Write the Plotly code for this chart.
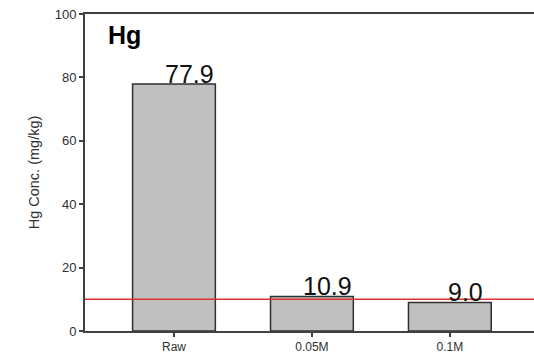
import plotly.graph_objects as go

categories = ["Raw", "0.05M", "0.1M"]
values = [77.9, 10.9, 9.0]
labels = ["77.9", "10.9", "9.0"]
limit_value = 10
y_ticks = [0, 20, 40, 60, 80, 100]

fig = go.Figure()
fig.add_trace(go.Bar(
    x=list(range(len(categories))), y=values, width=0.6,
    marker=dict(color="#C0C0C0", line=dict(color="#303030", width=1.5)),
    showlegend=False, hoverinfo="skip"))

for i, (v, t) in enumerate(zip(values, labels)):
    fig.add_annotation(x=i + 0.11, y=v, text=t, showarrow=False, xref="x", yref="y",
                       yanchor="bottom", xanchor="center", yshift=-6,
                       font=dict(family="Liberation Sans, Arial", size=25, color="#111111"))

fig.add_shape(type="line", xref="paper", yref="y", x0=0, x1=1, y0=limit_value, y1=limit_value,
              line=dict(color="#E03030", width=1.6))

fig.add_annotation(x=0.047, y=0.985, xref="paper", yref="paper", text="<b>Hg</b>", showarrow=False,
                   xanchor="left", yanchor="top",
                   font=dict(family="Liberation Sans, Arial", size=25, color="#000000"))

fig.update_layout(
    width=534, height=359,
    margin=dict(l=85, r=0, t=14, b=28),
    paper_bgcolor="white", plot_bgcolor="white",
    font=dict(family="Liberation Sans, Arial", size=12, color="#303030"),
    bargap=0.4,
)
fig.update_xaxes(range=[-0.645, 2.61], tickvals=list(range(len(categories))), ticktext=categories,
                 showline=True, linecolor="#404040", linewidth=2, mirror=True,
                 ticks="outside", ticklen=4, tickcolor="#404040", tickwidth=1.5,
                 showgrid=False, zeroline=False, tickfont=dict(size=12))
fig.update_yaxes(range=[0, 100], tickvals=y_ticks,
                 showline=True, linecolor="#404040", linewidth=2,
                 ticks="outside", ticklen=4, tickcolor="#404040", tickwidth=1.5,
                 showgrid=False, zeroline=False, tickfont=dict(size=13),
                 title=dict(text="Hg Conc. (mg/kg)", font=dict(size=14.5), standoff=12))

fig.write_html("out.html")
